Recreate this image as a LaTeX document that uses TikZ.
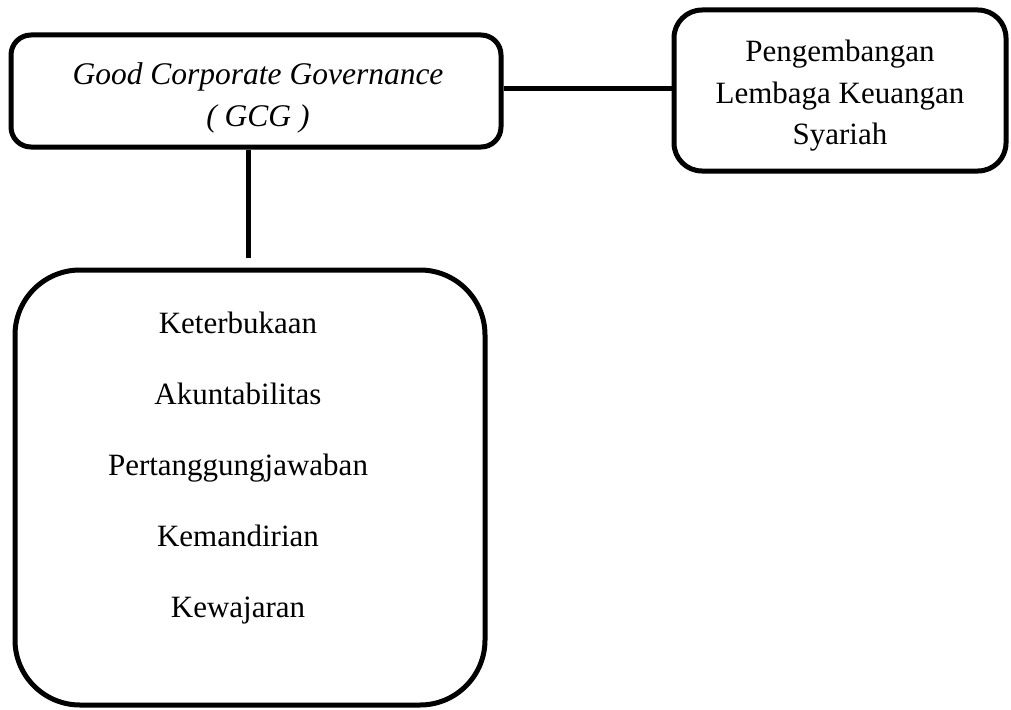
\documentclass[tikz,border=0pt]{standalone}
\usepackage{fontspec}
\setmainfont{Liberation Serif}
\begin{document}
\begin{tikzpicture}[x=1pt,y=-1pt,
  box/.style={draw=black, line width=5pt, fill=white, inner sep=0pt},
  txt/.style={inner sep=0pt, align=center, font=\fontsize{31}{41.5}\selectfont},
  link/.style={draw=black, line width=5pt}]
\useasboundingbox[fill=white] (0,0) rectangle (1011,709);
\node[box, minimum width=490pt, minimum height=112pt, rounded corners=20pt] (gcg) at (256,91) {};
\node[txt, font=\fontsize{31.5}{41.5}\selectfont\itshape] (gcgT) at (258,98)
  {Good Corporate Governance\\( GCG )};
\node[box, minimum width=332pt, minimum height=161pt, rounded corners=28pt] (lks) at (840,90.5) {};
\node[txt] (lksT) at (840,96)
  {Pengembangan\\Lembaga Keuangan\\Syariah};
\node[box, minimum width=470pt, minimum height=435pt, rounded corners=65pt] (prin) at (250,487.5) {};
\node[txt, font=\fontsize{31}{71}\selectfont] (prinT) at (238,468)
  {Keterbukaan\\Akuntabilitas\\Pertanggungjawaban\\Kemandirian\\Kewajaran};
\draw[link] ([yshift=3pt]gcg.east) -- ([yshift=3pt]gcg.east -| lks.west);
\draw[link, shorten >=10pt] ([xshift=-8pt]gcg.south) -- ([xshift=-8pt]gcg.south |- prin.north);
\end{tikzpicture}
\end{document}
